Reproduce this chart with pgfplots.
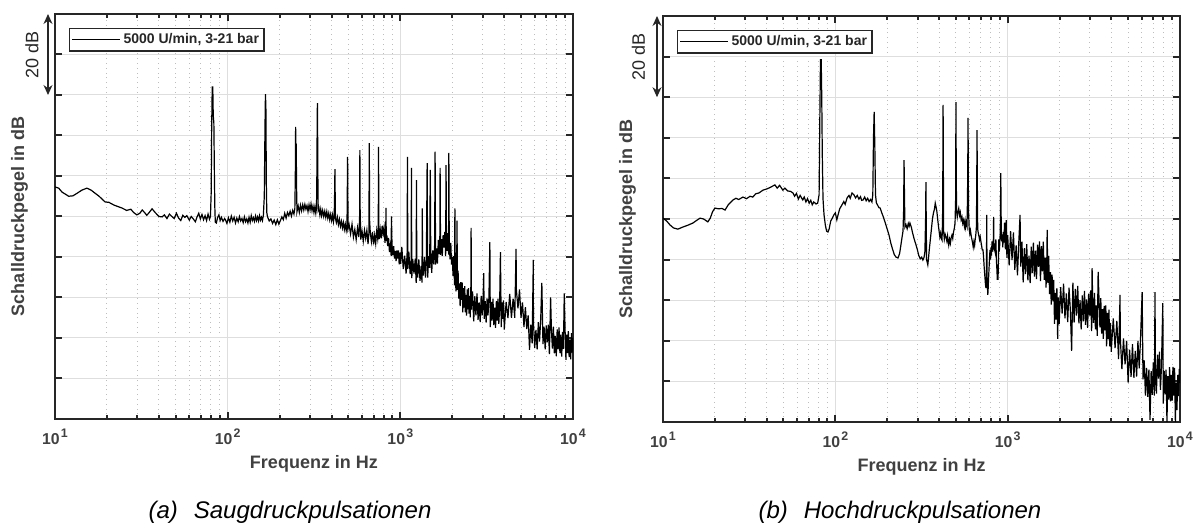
\documentclass[border=0pt]{standalone}
\usepackage{pgfplots}
\pgfplotsset{compat=1.18}
\usepackage{fontspec}
\setmainfont{Liberation Sans}
\usetikzlibrary{arrows.meta}
\definecolor{axcol}{HTML}{262626}
\definecolor{labcol}{HTML}{404040}
\definecolor{gridmaj}{HTML}{DEDEDE}
\definecolor{gridmin}{HTML}{BDBDBD}
\newcommand{\tlab}[1]{\textbf{10}\kern0.6pt\raisebox{0.5em}{\fontsize{6.2}{6.2}\selectfont\textbf{#1}}}
\pgfplotsset{
  mystyle/.style={
    scale only axis, anchor=south west,
    xmin=10, xmax=10000, ymin=0, ymax=100,
    ytick={0,10,...,100}, yticklabels={},
    xtick={10,100,1000,10000},
    xticklabels={\tlab{1},\tlab{2},\tlab{3},\tlab{4}},
    xticklabel style={font=\fontsize{7.9}{8}\selectfont, text=labcol, anchor=base, yshift=-13pt},
    grid=both,
    major grid style={gridmaj, line width=0.5pt},
    minor grid style={gridmin, dotted, line width=0.5pt},
    axis line style={axcol, line width=1.3pt},
    tick style={axcol, line width=1pt},
    major tick length=3.5pt, minor tick length=2pt,
    tick align=inside,
    clip mode=individual,
    legend style={at={(rel axis cs:0,1)}, anchor=north west, xshift=7pt, yshift=-7pt,
      draw=axcol, line width=0.6pt, fill=white, font=\fontsize{7}{8}\selectfont\bfseries,
      text=axcol, inner xsep=1pt, inner ysep=0.8pt, nodes={inner sep=1.5pt}},
    legend image code/.code={\draw[black, line width=0.5pt] (0pt,0pt) -- (24pt,0pt);},
    legend cell align=left,
  }
}
\begin{document}
\begin{tikzpicture}
\useasboundingbox (0,0) rectangle (598pt,262pt);
% ---------------- Panel (a) ----------------
\begin{semilogxaxis}[mystyle, at={(27.5pt,52.5pt)}, width=259pt, height=202.5pt]
\addplot[black, line width=0.6pt] coordinates {
(10,57.3)(10.5,57.0)(11,56.0)(11.5,55.5)(12,55.0)(12.7,55.1)(13.5,55.8)(14.3,56.5)(15.3,57.0)(16.2,56.5)(17,55.8)(18,55.0)(19.5,53.6)(20.5,53.5)(22,52.8)(24.4,52.1)(26,51.5)(27.5,51.8)(28.5,51.0)(29.8,50.4)(31,50.8)(32,51.6)(33,51.0)(34,50.3)(35,50.9)(36.5,51.9)(38,51.0)(40,50.0)(41.7,49.9)(43,50.4)(44.5,49.5)(46,50.6)(47.5,50.0)(49,49.5)(50.5,50.8)(52,49.6)(53.5,49.0)(55,50.3)(56.5,49.8)(58,50.2)(60,49.1)(61.5,50.0)(63,49.5)(65,48.7)(66.5,49.9)(68,50.8)(69.5,49.4)(71,50.5)(72.5,49.2)(74,50.2)(75.5,49.0)(77,50.6)(78.5,49.3)(79.5,50.0)(80.3,56)(80.8,72)(81.4,82)(82.0,82)(82.5,75)(83.2,73)(83.8,60)(84.3,52)(84.8,48.6)(86,48.4)(87.5,49.8)(89,50.4)(90.5,49.0)(92,49.8)(94,48.8)(96,49.5)
(97,49.2)(99,48.3)(101,49.7)(103,48.6)(105,50.1)(107,48.9)(109,49.8)(111,48.4)(113,49.6)(115,48.7)(117,50.0)(119,48.9)(121,49.5)(123,48.5)(125,49.9)(127,48.7)(129,49.4)(131,48.4)(133,49.8)(135,48.6)(137,50.2)(139,49.0)(141,49.7)(143,48.8)(145,50.1)(147,49.0)(149,49.9)(151,48.9)(153,50.2)(155,49.1)(157,49.8)(159,49.0)(161,50.3)(163,55)(164.5,72)(165.5,80.2)(166.5,77)(167.5,58)(168.5,51)
(170,50.0)(174,48.9)(178,49.4)(182,48.3)(186,49.1)(190,48.0)(194,49.2)(198,48.1)(202,49.0)(206,49.9)(210,49.2)(214,50.8)(218,49.6)(222,51.0)(226,50.2)(230,51.3)(234,50.1)(238,51.5)(242,50.6)(245,52.0)(246.5,60)(247.5,72.1)(248.5,66)(249.5,68)(250.5,58)(252,51.2)(256,52.6)(260,51.0)(264,52.8)(268,51.4)(272,52.9)(276,51.6)(280,53.0)(284,51.8)(288,52.7)(292,51.2)(296,52.9)(300,51.6)(304,53.1)(308,51.4)(312,52.6)(316,51.0)(320,52.4)(324,50.8)(327,52.0)(329,62.5)(330,74)(331,78)(332,70)(333,60)(334.5,51.5)(338,52.0)(342,50.4)(346,51.8)(350,50.2)(355,51.5)(360,50.0)(365,51.3)(370,49.8)(375,51.2)(380,49.6)(385,50.8)(390,49.2)(395,50.5)(400,49.0)(405,50.4)(410,48.7)(414,50.0)(416.5,56)(418,61.7)(419.5,55)(421,49.5)(426,48.5)(432,49.8)(438,48.0)(444,49.3)(450,47.6)(456,48.8)(462,47.2)(468,48.5)(474,46.8)(480,48.1)(486,46.5)(491,47.6)(493.5,58)(495,64.7)(496.5,57)(498,47.0)
(505,48.0)(515,45.7)(525,48.1)(535,44.9)(545,46.8)(555,44.3)(565,47.2)(575,44.9)(581,50)(583,66.4)(585,52)(590,44.3)(600,46.4)(610,43.9)(620,46.6)(630,44.6)(640,46.6)(650,43.2)(658,46)(661,68.1)(664,49)(670,46.0)(680,43.8)(690,46.2)(700,43.1)(710,45.4)(720,43.3)(730,46.5)(740,44.5)(745,46)(748,67.2)(751,47)(755,44.4)(765,46.8)(775,44.6)(785,47.7)(795,45.7)(805,47.3)(815,43.5)(823,46)(826,52.1)(829,44)(835,45.4)(845,42.7)(855,44.7)(865,41.2)(875,42.8)(885,40.3)(888,50)(895,43.0)(905,40.5)(915,42.7)(925,39.6)(935,41.5)(945,39.0)(955,41.6)(965,39.6)(975,41.6)(985,38.2)(995,41.1)
(1005,38.3)(1020,42.5)(1040,37.0)(1060,40.3)(1080,35.9)(1095,41.1)(1100,64.7)(1105,37.0)(1120,41.3)(1140,35.8)(1155,39.2)(1160,62.0)(1165,34.8)(1180,39.5)(1200,35.9)(1220,39.6)(1235,33.6)(1240,59.0)(1245,38.7)(1260,34.9)(1280,39.4)(1300,34.1)(1320,37.8)(1335,33.7)(1340,52.0)(1345,39.2)(1360,35.4)(1380,40.0)(1400,34.9)(1415,38.9)(1430,63.2)(1440,34.9)(1460,40.2)(1480,37.3)(1490,61.5)(1500,41.7)(1520,36.1)(1540,41.6)(1560,38.2)(1580,43.0)(1590,66.0)(1600,38.1)(1620,42.1)(1640,38.4)(1660,44.2)(1680,40.7)(1695,45.5)(1700,62.0)(1710,40.5)(1730,44.4)(1750,40.3)(1770,45.4)(1790,42.3)(1810,46.2)(1830,40.2)(1840,62.7)(1850,45.3)(1870,41.5)(1890,45.9)(1905,40.6)(1910,65.7)(1920,43.9)(1940,39.4)(1960,43.5)(1980,38.1)(2000,40.0)
(2020,35.3)(2040,40.2)(2060,33.0)(2070,52.0)(2080,36.8)(2100,31.5)(2120,37.4)(2130,49.0)(2140,31.9)(2160,36.6)(2180,29.7)(2200,33.5)(2220,27.9)(2240,33.8)(2260,29.4)(2280,33.7)(2300,26.3)(2320,32.3)(2340,27.5)(2360,32.8)(2380,26.3)(2400,30.6)(2420,25.5)(2440,32.0)(2460,27.1)(2480,32.3)(2500,26.0)(2520,30.4)(2540,25.1)(2560,31.1)(2570,47.2)(2580,27.0)(2620,31.5)(2660,24.1)(2700,30.3)(2740,25.6)(2780,31.0)(2820,24.5)(2860,28.8)(2900,23.9)(2940,30.4)(2980,25.6)(3020,30.9)(3040,36.0)(3060,24.7)(3100,29.1)(3140,23.8)(3180,29.8)(3220,25.6)(3260,30.1)(3300,43.7)(3320,22.7)(3360,28.9)(3400,24.3)(3440,29.7)(3480,23.2)(3520,27.5)(3560,22.5)(3600,29.1)(3640,24.3)(3680,29.7)(3720,23.5)(3760,28.0)(3800,41.2)(3840,22.7)(3880,28.8)(3920,24.7)(3960,29.3)(4000,22.1)(4100,28.9)(4200,24.9)(4300,30.9)(4400,25.0)(4500,29.7)(4600,25.0)(4680,42.0)(4700,31.9)(4800,27.3)(4900,32.0)(5000,25.0)(5100,28.8)(5200,22.7)(5300,27.6)(5400,22.2)(5500,25.6)(5600,17.1)(5700,23.3)(5800,18.7)(5890,39.3)(5900,24.1)(6000,17.5)(6100,22.0)(6200,17.2)(6300,23.9)(6400,19.1)(6500,24.6)(6600,33.6)(6700,18.5)(6800,22.8)(6900,17.2)(7000,23.1)(7100,18.9)(7200,23.3)(7300,16.0)(7420,30.0)(7500,22.0)(7600,17.4)(7700,22.8)(7800,16.2)(7900,20.5)(8000,15.5)(8100,22.1)(8200,17.2)(8300,22.6)(8400,16.3)(8500,20.8)(8600,15.4)(8700,21.5)(8800,17.3)(8900,31.0)(9000,21.8)(9100,14.6)(9200,20.8)(9300,16.3)(9400,21.7)(9500,15.3)(9600,19.6)(9700,14.7)(9800,21.2)(9900,16.4)(10000,20.0)
};
\addlegendentry{5000 U/min, 3-21 bar}
\draw[axcol, line width=0.6pt, {Stealth[length=5pt,width=4.5pt]}-{Stealth[length=5pt,width=4.5pt]}] ([xshift=-3.5pt]rel axis cs:0,1) -- ([xshift=-3.5pt]rel axis cs:0,0.8);
\node[rotate=90, font=\fontsize{9}{10}\selectfont, text=axcol] at ([xshift=-11.5pt]rel axis cs:0,0.9) {20 dB};
\node[rotate=90, font=\fontsize{9}{10}\selectfont\bfseries, text=labcol] at ([xshift=-17.75pt]rel axis cs:0,0.5) {Schalldruckpegel in dB};
\node[font=\fontsize{9}{10}\selectfont\bfseries, text=labcol] at ([yshift=-22.5pt]rel axis cs:0.5,0) {Frequenz in Hz};
\end{semilogxaxis}
% ---------------- Panel (b) ----------------
\begin{semilogxaxis}[mystyle, at={(331.5pt,51pt)}, width=258.5pt, height=203pt]
\addplot[black, line width=0.6pt] coordinates {
(10,50.2)(10.5,49.5)(11,48.5)(11.5,47.8)(12.2,47.5)(13,48.0)(14,48.5)(14.9,49.0)(15.6,49.6)(16.4,50.2)(17.2,50.0)(18.2,49.3)(18.8,50.2)(19.4,51.8)(20,52.7)(21,52.5)(22,52.6)(22.9,52.2)(24,53.6)(25.5,54.7)(26.5,55.1)(27.5,54.8)(29.1,55.4)(30.5,55.0)(32,55.6)(33.2,55.4)(34.5,56.2)(36,56.4)(38,57.1)(40,57.4)(42,57.8)(44.6,58.4)(46,57.6)(47.5,58.3)(49.6,57.1)(51,57.6)(53,56.9)(55,56.8)(56.8,56.4)(58,55.6)(59.5,56.3)(61,54.9)(62.5,55.8)(64.7,54.7)(66,55.4)(67.5,54.2)(69,55.0)(70.5,53.9)(72,54.6)(73.5,53.5)(75,54.2)(77.2,53.7)(79,53.9)(80.5,56)(81.3,75)(82,89.2)(82.8,89.2)(83.4,80)(84,66)(84.8,55)(86,51)(87.5,48.5)(89,47)(90.6,46.8)(92,47.5)(94,49.5)(96,50.2)(98,51.0)(100,51.5)(102,49.8)(104,51.2)(106,52.5)(109,53.4)(112,54.3)(114,53.6)(117,55.2)(120,55.8)(122,55.1)(125,56.4)(128,56.0)(131,55.2)(134,55.8)(137,54.9)(140,55.5)(142,54.6)(145,54.7)(148,55.4)(151,54.5)(154,55.1)(157,54.3)(160,54.8)(163,54.2)(165,56)(166.5,70)(168,76.4)(169.5,68)(171,56)(173,54.0)(176,53.4)(179,52.8)(182,52.7)(186,51.5)(190,50.5)(195,49.0)(200,47.5)(205,46.0)(210,44.0)(215,42.5)(220,41.2)(225,40.6)(231,40.4)(236,41.5)(240,43.5)(244,45.6)(247,47.0)(249,52)(250.5,64.5)(252,55)(253.5,48.0)(257,48.6)(261,47.6)(265,48.9)(268,48.2)(271,49.0)(276,48.0)(281,46.5)(287,45.0)(293,43.8)(299,42.5)(305,41.0)(311,40.2)(317,40.6)(322,39.9)(327,40.5)(331,42)(334,50)(335.5,59.1)(337,48)(338.5,40)(341,39.4)(344,38.7)(347,40.2)(351,42.5)(356,45.0)(361,47.5)(366,50.0)(371,51.5)(376,52.4)(380,53.9)(384,53.0)(388,52.0)(392,50.2)(396,48.5)(400,47.0)(404,45.6)(408,46.5)(412,45.2)(416,44.8)(419,50)(421,65)(422,78.1)(423.5,62)(425,47)(429,45.0)(434,46.2)(439,45.5)(444,44.5)(448,45.8)(451,44.8)(455,43.6)(460,45.0)(465,44.0)(470,45.4)(475,46.0)(480,45.2)(485,46.8)(490,47.6)(495,49.0)(499,55)(501,78.8)(503,62)(505,52)(510,50.5)(515,51.8)(520,52.6)(526,50.9)(531,51.6)(537,49.8)(543,50.5)(549,48.9)(555,49.7)(561,48.2)(566,49.5)(570,48.0)(576,49.2)(581,48.4)(585,56)(587,64)(589,74.9)(591,60)(593,52)(598,47.6)(603,46.4)(608,47.2)(614,45.9)(620,45.0)(626,44.1)(631,43.1)(637,44.4)(643,43.5)(648,45.0)(653,46.0)(658,47.8)(661,55)(664,71.9)(667,58)(670,47.5)(675,46.6)(681,45.8)(687,44.9)(693,45.6)(699,44.5)(705,43.6)(712,42.4)(719,42.4)(725,40.5)(731,38.0)(737,36.0)(743,34.0)(748,33.0)(753,36)(756,51)(759,36)(763,33.5)(767,31.3)(771,33.0)(775,35.5)(780,38.0)(785,40.5)(790,42.4)(796,40.0)(801,43.0)(806,41.0)(811,44.5)(815,43.0)(820,42.0)(826,45.0)(829,50.5)(832,42.5)(836,44.0)(842,42.2)(848,41.6)(854,45.0)(860,40.0)(866,37.6)(871,35.0)(876,36.2)(879,35.0)(884,40)(888,45)(894,42)(900,44)(906,47)(912,61.3)(918,47)(923,44.5)(930,46.2)(937,43.0)(943,46.8)(950,44.2)
(960,49.1)(970,42.5)(980,49.7)(990,40.4)(1000,46.0)(1020,38.6)(1040,47.0)(1060,39.9)(1080,46.7)(1100,37.5)(1120,43.5)(1140,36.1)(1160,44.2)(1180,51.0)(1190,38.3)(1210,44.4)(1230,34.4)(1250,42.8)(1270,36.4)(1290,43.8)(1310,34.9)(1330,41.0)(1350,34.2)(1370,43.2)(1390,36.7)(1410,44.2)(1430,35.8)(1450,42.2)(1470,35.2)(1490,43.7)(1510,38.2)(1530,44.5)(1550,34.7)(1570,43.3)(1590,37.1)(1610,44.4)(1630,35.0)(1650,40.5)(1670,33.1)(1690,41.5)(1695,47.3)(1710,34.3)(1730,40.9)(1750,31.5)(1770,36.9)(1790,28.9)(1810,36.3)(1830,29.7)(1850,35.0)(1870,24.2)(1890,31.8)(1910,25.2)(1930,33.0)(1950,20.5)(1970,30.7)(1990,24.1)
(2030,33.2)(2070,26.7)(2110,34.1)(2150,25.5)(2190,31.7)(2230,24.6)(2270,33.1)(2310,27.6)(2350,17.5)(2390,34.3)(2430,24.5)(2470,32.8)(2510,26.2)(2550,33.5)(2590,24.3)(2630,30.0)(2670,22.8)(2710,31.2)(2750,24.8)(2790,32.3)(2830,23.9)(2870,30.2)(2910,23.2)(2950,31.6)(2990,26.2)(3030,32.4)(3070,22.4)(3090,37.9)(3110,30.8)(3150,24.4)(3190,31.8)(3230,22.8)(3270,28.7)(3310,21.2)(3350,37.0)(3390,30.0)(3430,23.3)(3470,30.5)(3510,21.8)(3550,27.8)(3590,20.5)(3630,28.6)(3670,22.6)(3710,28.7)(3750,18.6)(3790,26.9)(3830,20.4)(3870,27.7)(3910,18.6)(3950,24.4)(3990,17.3)
(4100,25.5)(4200,18.2)(4300,24.9)(4400,15.5)(4490,31.3)(4500,21.0)(4600,13.0)(4700,20.6)(4800,14.2)(4900,20.0)(5000,9.7)(5100,17.8)(5200,11.1)(5300,19.2)(5400,10.9)(5500,17.5)(5600,11.2)(5700,20.0)(5800,13.2)(5900,20.4)(6030,32.0)(6100,10.5)(6200,15.2)(6300,6.5)(6400,13.3)(6500,6.2)(6600,12.9)(6700,0.5)(6800,12.5)(6900,6.7)(7000,14.7)(7100,6.5)(7160,32.0)(7200,13.2)(7300,7.0)(7400,16.6)(7500,10.7)(7600,17.3)(7700,7.9)(7800,13.3)(7950,29.3)(8000,4.5)(8100,12.6)(8200,6.8)(8300,12.9)(8400,0)(8500,11.3)(8600,5.5)(8700,13.5)(8800,5.1)(8900,11.6)(9000,5.2)(9100,13.6)(9200,6.5)(9300,13.3)(9400,0)(9500,9.7)(9600,2.9)(9700,11.6)(9800,6.4)(9900,13.1)(10000,9.6)
};
\addlegendentry{5000 U/min, 3-21 bar}
\draw[axcol, line width=0.6pt, {Stealth[length=5pt,width=4.5pt]}-{Stealth[length=5pt,width=4.5pt]}] ([xshift=-3pt]rel axis cs:0,1) -- ([xshift=-3pt]rel axis cs:0,0.8);
\node[rotate=90, font=\fontsize{9}{10}\selectfont, text=axcol] at ([xshift=-12.25pt]rel axis cs:0,0.9) {20 dB};
\node[rotate=90, font=\fontsize{9}{10}\selectfont\bfseries, text=labcol] at ([xshift=-17.75pt]rel axis cs:0,0.5) {Schalldruckpegel in dB};
\node[font=\fontsize{9}{10}\selectfont\bfseries, text=labcol] at ([yshift=-22.5pt]rel axis cs:0.5,0) {Frequenz in Hz};
\end{semilogxaxis}
% captions
\node[anchor=base, font=\fontsize{12}{14}\selectfont\itshape, text=black] at (145pt,2.8pt) {(a)\hspace{8pt}Saugdruckpulsationen};
\node[anchor=base, font=\fontsize{12}{14}\selectfont\itshape, text=black] at (450pt,2.8pt) {(b)\hspace{8pt}Hochdruckpulsationen};
\end{tikzpicture}
\end{document}
